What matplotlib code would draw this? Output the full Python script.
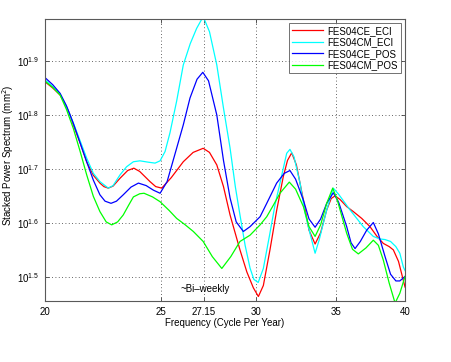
import matplotlib
matplotlib.use("Agg")
import matplotlib.pyplot as plt
from matplotlib.ticker import FixedLocator, FixedFormatter, NullLocator

# ---- data ----
freq_ce_eci = [20.0, 20.3, 20.59, 20.8, 20.99, 21.12, 21.4, 21.67, 21.95, 22.23, 22.4, 22.59,
               22.8, 23.11, 23.45, 23.73, 24.0, 24.48, 24.75, 25.04, 25.5, 26.10, 26.6, 27.12,
               27.45, 27.84, 28.2, 28.56, 29.11, 29.5, 29.87, 30.16, 30.45, 30.84, 31.24,
               31.64, 31.9, 32.16, 32.45, 32.89, 33.25, 33.64, 34.0, 34.40, 34.7, 34.96, 35.3,
               35.75, 36.21, 36.8, 37.39, 37.9, 38.36, 38.8, 39.11, 39.5, 40.0]
pow_ce_eci = [72.7, 70.8, 68.7, 66.0, 63.1, 60.5, 56.0, 51.7, 48.8, 47.2, 46.5, 46.2,
              46.6, 48.2, 49.8, 50.3, 49.6, 47.5, 46.5, 46.2, 48.3, 51.7, 53.8, 54.75,
              53.8, 51.0, 46.5, 41.2, 35.5, 32.3, 30.2, 29.1, 30.5, 35.5, 42.0,
              48.5, 52.0, 53.7, 51.0, 43.9, 38.6, 36.4, 38.2, 42.1, 44.2, 44.7, 44.0,
              42.7, 41.8, 40.6, 39.2, 37.6, 36.5, 36.0, 35.5, 33.8, 30.3]

freq_cm_eci = [20.0, 20.3, 20.59, 20.8, 20.99, 21.12, 21.4, 21.67, 21.95, 22.23, 22.59, 22.8,
               23.11, 23.4, 23.71, 24.01, 24.4, 24.72, 24.96, 25.2, 25.44, 25.77, 26.10,
               26.45, 26.78, 27.12, 27.45, 27.84, 28.2, 28.56, 28.85, 29.11, 29.4, 29.68,
               29.9, 30.15, 30.45, 30.84, 31.14, 31.44, 31.85, 32.05, 32.3, 32.68, 33.0,
               33.31, 33.64, 33.9, 34.40, 34.84, 35.2, 35.98, 36.91, 37.63, 38.1, 38.49,
               38.9, 39.30, 39.6, 39.87, 40.0]
pow_cm_eci = [73.3, 71.2, 69.0, 66.0, 63.1, 61.0, 56.5, 52.5, 49.2, 47.5, 46.2, 46.7,
              48.9, 50.6, 51.7, 51.9, 51.6, 51.4, 51.9, 54.0, 58.5, 67.0, 78.1,
              85.5, 91.3, 96.0, 90.0, 78.1, 65.0, 54.8, 46.5, 41.2, 36.2, 32.85,
              31.3, 30.9, 32.8, 38.15, 43.0, 47.2, 53.6, 54.5, 52.8, 47.2, 41.5,
              38.1, 35.0, 37.0, 42.1, 46.2, 45.0, 42.1, 39.2, 37.6, 37.2, 37.1,
              36.8, 36.0, 35.0, 33.0, 32.5]

freq_ce_pos = [20.0, 20.3, 20.59, 20.85, 21.12, 21.4, 21.67, 21.95, 22.23, 22.45, 22.71,
               22.95, 23.25, 23.6, 23.94, 24.3, 24.64, 24.96, 25.3, 25.77, 26.1, 26.44, 26.8,
               27.10, 27.4, 27.84, 28.2, 28.56, 28.9, 29.30, 29.68, 30.26, 30.65, 31.24,
               31.7, 32.05, 32.4, 32.89, 33.25, 33.64, 34.0, 34.40, 34.84, 35.2, 35.75,
               36.05, 36.33, 36.7, 37.15, 37.63, 38.0, 38.49, 38.9, 39.30, 39.6, 40.0]
pow_ce_pos = [74.0, 71.8, 69.2, 65.5, 60.9, 56.0, 51.7, 47.8, 44.9, 43.7, 43.3,
              43.7, 44.9, 46.4, 47.2, 46.7, 45.8, 45.2, 47.5, 54.8, 60.5, 67.85, 73.5,
              75.7, 73.0, 63.1, 52.0, 44.3, 40.0, 38.4, 39.2, 40.9, 43.3, 47.2,
              49.2, 49.8, 48.0, 43.9, 40.5, 39.1, 40.5, 43.3, 45.3, 43.5, 39.2,
              36.6, 35.7, 36.8, 38.6, 39.9, 38.0, 34.5, 32.0, 31.1, 31.1, 31.7]

freq_cm_pos = [20.0, 20.3, 20.59, 20.85, 21.12, 21.4, 21.67, 21.95, 22.23, 22.5, 22.74,
               23.0, 23.25, 23.5, 23.71, 24.0, 24.20, 24.6, 24.96, 25.4, 25.77, 26.2, 26.61,
               27.12, 27.6, 28.11, 28.6, 29.11, 29.68, 30.26, 30.65, 31.05, 31.44, 32.01,
               32.4, 32.89, 33.25, 33.64, 34.0, 34.40, 34.80, 35.1, 35.75, 36.15, 36.56,
               37.1, 37.63, 38.0, 38.36, 38.8, 39.24, 39.6, 40.0]
pow_cm_pos = [72.9, 71.0, 68.7, 64.5, 59.6, 54.0, 48.9, 44.6, 41.8, 40.0, 39.5,
              40.0, 41.2, 43.0, 44.5, 45.1, 45.2, 44.5, 43.6, 42.0, 40.6, 39.5, 38.4,
              36.8, 34.5, 32.8, 34.5, 36.8, 37.8, 39.5, 40.9, 43.0, 45.2, 47.4,
              46.0, 42.7, 39.2, 37.6, 39.5, 43.3, 46.2, 44.0, 38.1, 35.6, 34.9,
              35.8, 37.0, 36.2, 34.0, 30.8, 28.3, 29.5, 31.7]

series_labels = ["FES04CE_ECI", "FES04CM_ECI", "FES04CE_POS", "FES04CM_POS"]
x_ticks = [20, 25, 27.15, 30, 35, 40]
x_ticklabels = ["20", "25", "27.15", "30", "35", "40"]
y_exponents = [1.5, 1.6, 1.7, 1.8, 1.9]

# ---- figure ----
plt.rcParams['font.family'] = ['Liberation Sans', 'DejaVu Sans']
fig = plt.figure(figsize=(4.52, 3.62), dpi=100)
ax = fig.add_axes([0.0996, 0.1685, 0.7965, 0.779])

colors = ['#ff0000', '#00ffff', '#0000ff', '#00ff00']
data = [(freq_ce_eci, pow_ce_eci), (freq_cm_eci, pow_cm_eci),
        (freq_ce_pos, pow_ce_pos), (freq_cm_pos, pow_cm_pos)]
for (fx, py), c, lab in zip(data, colors, series_labels):
    ax.plot(fx, py, color=c, lw=0.9, label=lab, solid_joinstyle='round')

ax.set_xscale('log')
ax.set_yscale('log')
ax.set_xlim(20, 40)
ax.set_ylim(10 ** 1.4556, 10 ** 1.9778)

ax.xaxis.set_major_locator(FixedLocator(x_ticks))
ax.xaxis.set_major_formatter(FixedFormatter(x_ticklabels))
ax.xaxis.set_minor_locator(NullLocator())
yt = [10 ** e for e in y_exponents]
ax.yaxis.set_major_locator(FixedLocator(yt))
ax.yaxis.set_major_formatter(FixedFormatter([r"$\mathregular{10^{%g}}$" % e for e in y_exponents]))
ax.yaxis.set_minor_locator(NullLocator())

ax.tick_params(which='both', direction='in', top=True, right=True, length=3,
               width=0.6, color='0.25', labelsize=7, pad=4)
for s in ax.spines.values():
    s.set_color('0.35')
    s.set_linewidth(0.8)

ax.grid(True, which='major', linestyle=(0, (1, 3)), color='0.2', lw=0.6)

ax.set_xlabel("Frequency (Cycle Per Year)", fontsize=7, labelpad=1)
ax.set_ylabel("Stacked Power Spectrum (mm$^2$)", fontsize=7)
ax.yaxis.set_label_coords(-0.08, 0.518)

ax.text(27.2, 30.05, "~Bi\u2013weekly", fontsize=7, ha='center', va='center')

leg = ax.legend(loc='upper right', fontsize=7, frameon=True, fancybox=False,
                handlelength=3.2, borderpad=0.3, labelspacing=0.15,
                handletextpad=0.5, borderaxespad=0.4)
leg.get_frame().set_edgecolor('0.3')
leg.get_frame().set_linewidth(0.7)

fig.savefig("out.png", dpi=100)
